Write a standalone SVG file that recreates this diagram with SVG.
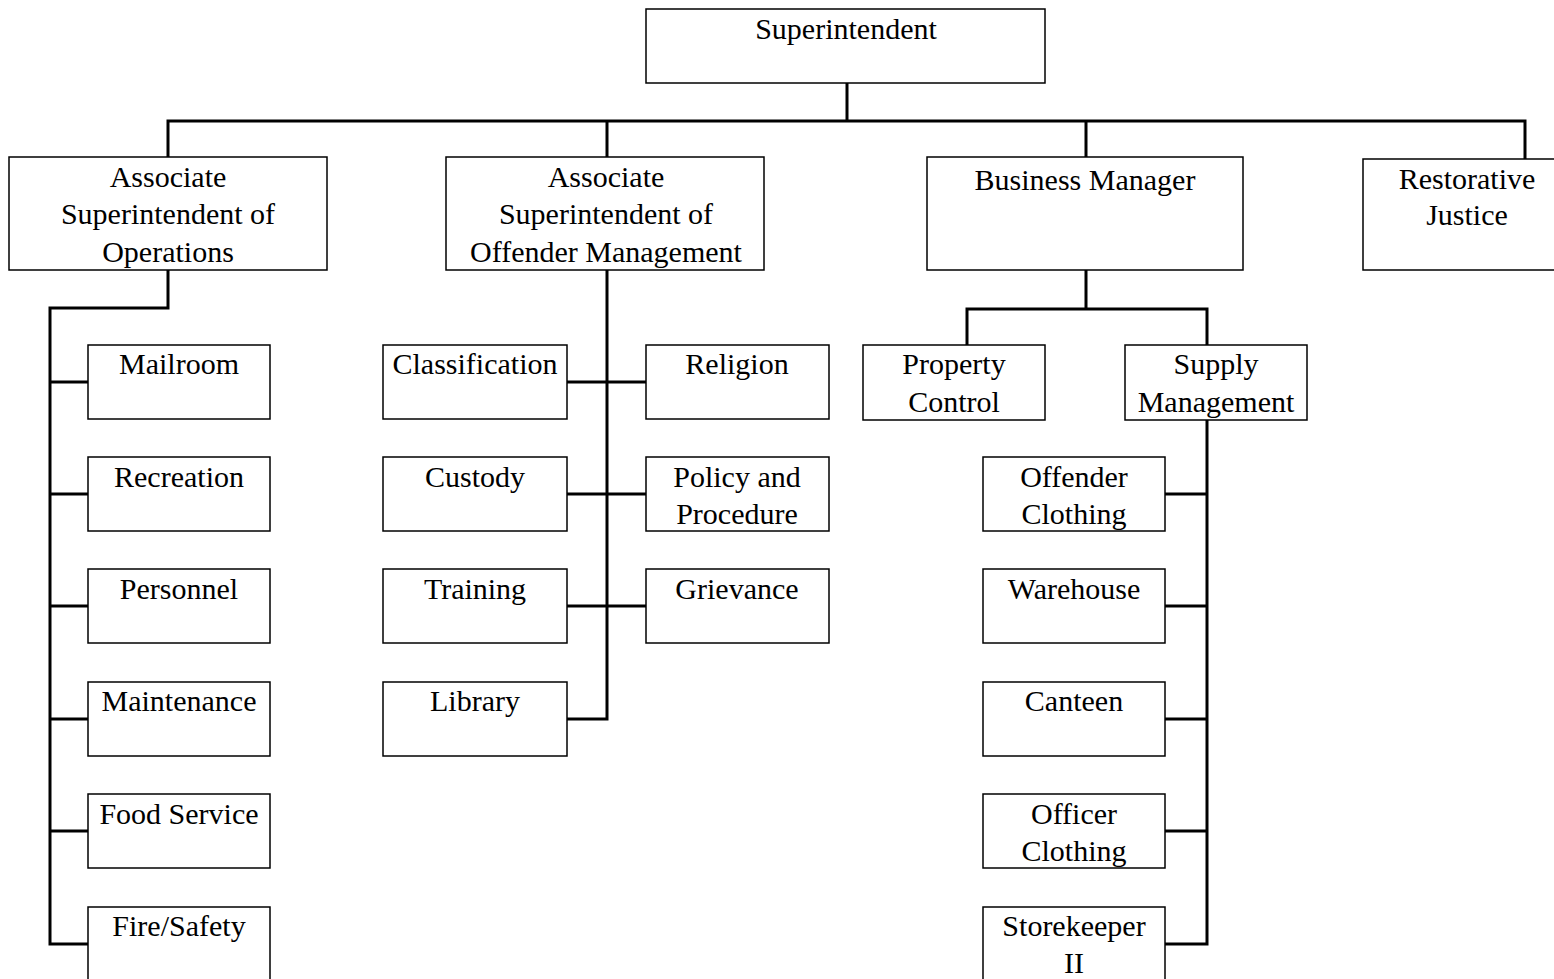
<svg xmlns="http://www.w3.org/2000/svg" width="1554" height="979" viewBox="0 0 1554 979">
<style>
.box{fill:#fff;stroke:#000;stroke-width:1.5}
.con{fill:none;stroke:#000;stroke-width:3;stroke-linecap:square}
text{font-family:"Liberation Serif","Times New Roman",serif;font-size:30px;fill:#000;text-anchor:middle}
</style>
<rect width="1554" height="979" fill="#fff"/>
<g id="connectors">
<path class="con" d="M847 83V121M168 121H1525M168 121V157M607 121V157M1086 121V157M1525 121V159"/>
<path class="con" d="M168 270V308H50V944H88M50 382H88M50 494H88M50 606H88M50 719H88M50 831H88"/>
<path class="con" d="M607 270V719H567M567 382H646M567 494H646M567 606H646"/>
<path class="con" d="M1086 270V309M967 345V309H1207V345"/>
<path class="con" d="M1207 420V944H1165M1165 494H1207M1165 606H1207M1165 719H1207M1165 831H1207"/>
</g>
<g id="superintendent"><rect class="box" x="646" y="9" width="399" height="74"/><text x="846" y="39">Superintendent</text></g>
<g id="assoc-ops"><rect class="box" x="9" y="157" width="318" height="113"/><text x="168" y="187">Associate</text><text x="168" y="224">Superintendent of</text><text x="168" y="262">Operations</text></g>
<g id="assoc-offender"><rect class="box" x="446" y="157" width="318" height="113"/><text x="606" y="187">Associate</text><text x="606" y="224">Superintendent of</text><text x="606" y="262">Offender Management</text></g>
<g id="business-manager"><rect class="box" x="927" y="157" width="316" height="113"/><text x="1085" y="190">Business Manager</text></g>
<g id="restorative-justice"><rect class="box" x="1363" y="159" width="200" height="111"/><text x="1467" y="189">Restorative</text><text x="1467" y="225">Justice</text></g>
<g id="mailroom"><rect class="box" x="88" y="345" width="182" height="74"/><text x="179" y="374">Mailroom</text></g>
<g id="recreation"><rect class="box" x="88" y="457" width="182" height="74"/><text x="179" y="487">Recreation</text></g>
<g id="personnel"><rect class="box" x="88" y="569" width="182" height="74"/><text x="179" y="599">Personnel</text></g>
<g id="maintenance"><rect class="box" x="88" y="682" width="182" height="74"/><text x="179" y="711">Maintenance</text></g>
<g id="food-service"><rect class="box" x="88" y="794" width="182" height="74"/><text x="179" y="824">Food Service</text></g>
<g id="fire-safety"><rect class="box" x="88" y="907" width="182" height="80"/><text x="179" y="936">Fire/Safety</text></g>
<g id="classification"><rect class="box" x="383" y="345" width="184" height="74"/><text x="475" y="374">Classification</text></g>
<g id="custody"><rect class="box" x="383" y="457" width="184" height="74"/><text x="475" y="487">Custody</text></g>
<g id="training"><rect class="box" x="383" y="569" width="184" height="74"/><text x="475" y="599">Training</text></g>
<g id="library"><rect class="box" x="383" y="682" width="184" height="74"/><text x="475" y="711">Library</text></g>
<g id="religion"><rect class="box" x="646" y="345" width="183" height="74"/><text x="737" y="374">Religion</text></g>
<g id="policy"><rect class="box" x="646" y="457" width="183" height="74"/><text x="737" y="487">Policy and</text><text x="737" y="524">Procedure</text></g>
<g id="grievance"><rect class="box" x="646" y="569" width="183" height="74"/><text x="737" y="599">Grievance</text></g>
<g id="property-control"><rect class="box" x="863" y="345" width="182" height="75"/><text x="954" y="374">Property</text><text x="954" y="412">Control</text></g>
<g id="supply-management"><rect class="box" x="1125" y="345" width="182" height="75"/><text x="1216" y="374">Supply</text><text x="1216" y="412">Management</text></g>
<g id="offender-clothing"><rect class="box" x="983" y="457" width="182" height="74"/><text x="1074" y="487">Offender</text><text x="1074" y="524">Clothing</text></g>
<g id="warehouse"><rect class="box" x="983" y="569" width="182" height="74"/><text x="1074" y="599">Warehouse</text></g>
<g id="canteen"><rect class="box" x="983" y="682" width="182" height="74"/><text x="1074" y="711">Canteen</text></g>
<g id="officer-clothing"><rect class="box" x="983" y="794" width="182" height="74"/><text x="1074" y="824">Officer</text><text x="1074" y="861">Clothing</text></g>
<g id="storekeeper"><rect class="box" x="983" y="907" width="182" height="80"/><text x="1074" y="936">Storekeeper</text><text x="1074" y="973">II</text></g>
</svg>
